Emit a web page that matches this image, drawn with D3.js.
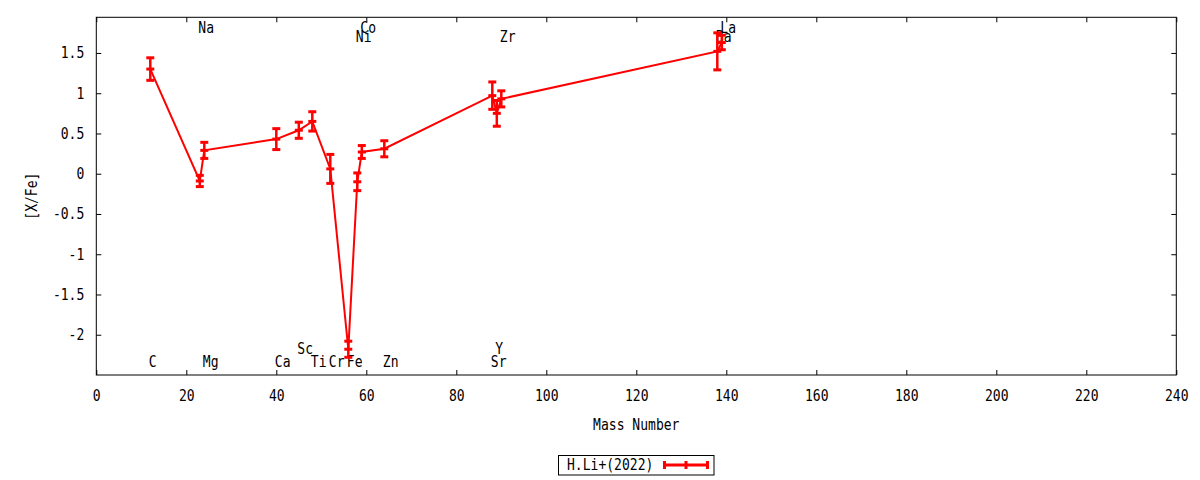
<!DOCTYPE html>
<html>
<head>
<meta charset="utf-8">
<script src="https://cdn.jsdelivr.net/npm/d3@7"></script>
<style>
  body { margin: 0; background: #fff; }
  svg text { font-family: "DejaVu Sans Mono", monospace; font-size: 15px; fill: #000; }
</style>
</head>
<body>
<div id="chart"></div>
<script>
// abundance data
var elements = ["C", "Na", "Mg", "Ca", "Sc", "Ti", "Cr", "Fe", "Ni", "Co", "Zn", "Sr", "Y", "Zr", "Ba", "La"];
var massNumbers = [12, 23, 24, 40, 45, 48, 52, 56, 58, 59, 64, 88, 89, 90, 138, 139];
var abundances = [1.30, -0.09, 0.29, 0.43, 0.54, 0.65, 0.06, -2.18, -0.10, 0.27, 0.31, 0.97, 0.75, 0.93, 1.52, 1.63];
var abundanceErrors = [0.14, 0.07, 0.10, 0.13, 0.10, 0.12, 0.18, 0.10, 0.11, 0.08, 0.10, 0.17, 0.16, 0.10, 0.23, 0.09];

// element name labels: row value in data units
var labelRows = [-2.33, 1.82, -2.33, -2.33, -2.17, -2.33, -2.33, -2.33, 1.70, 1.82, -2.33, -2.33, -2.17, 1.70, 1.70, 1.82];

var xTicks = [0, 20, 40, 60, 80, 100, 120, 140, 160, 180, 200, 220, 240];
var yTicks = [-2, -1.5, -1, -0.5, 0, 0.5, 1, 1.5];
var yTickLabels = ["-2", "-1.5", "-1", "-0.5", "0", "0.5", "1", "1.5"];
var seriesName = "H.Li+(2022)";

var width = 1200, height = 480;
var margin = { top: 17.3, right: 23.7, bottom: 105, left: 96.3 };
var red = "#ff0000";
var squeeze = 0.87; // the font in the picture is narrow and tall

var svg = d3.select("#chart").append("svg")
  .attr("width", width)
  .attr("height", height);

var x = d3.scaleLinear().domain([0, 240]).range([margin.left, width - margin.right]);
var y = d3.scaleLinear().domain([-2.5, 1.943]).range([height - margin.bottom, margin.top]);

var points = elements.map(function (el, i) {
  return { name: el, mass: massNumbers[i], val: abundances[i], err: abundanceErrors[i], row: labelRows[i] };
});

// axes, ticks inward and mirrored
var tickLen = 5;
svg.append("g")
  .attr("transform", "translate(0," + y.range()[0] + ")")
  .call(d3.axisBottom(x).tickValues(xTicks).tickSizeInner(-tickLen).tickSizeOuter(0).tickPadding(15).tickFormat(d3.format("d")))
  .call(function (g) { g.select(".domain").remove(); g.selectAll("line").attr("stroke", "#000"); });

svg.append("g")
  .attr("transform", "translate(0," + y.range()[1] + ")")
  .call(d3.axisTop(x).tickValues(xTicks).tickSizeInner(-tickLen).tickSizeOuter(0).tickFormat(""))
  .call(function (g) { g.select(".domain").remove(); });

svg.append("g")
  .attr("transform", "translate(" + x.range()[0] + ",0)")
  .call(d3.axisLeft(y).tickValues(yTicks).tickSizeInner(-tickLen).tickSizeOuter(0).tickPadding(12)
    .tickFormat(function (d, i) { return yTickLabels[i]; }))
  .call(function (g) { g.select(".domain").remove(); });

svg.append("g")
  .attr("transform", "translate(" + x.range()[1] + ",0)")
  .call(d3.axisRight(y).tickValues(yTicks).tickSizeInner(-tickLen).tickSizeOuter(0).tickFormat(""))
  .call(function (g) { g.select(".domain").remove(); });

svg.selectAll(".tick text").attr("font-family", null).attr("font-size", null);

svg.append("rect")
  .attr("x", x.range()[0])
  .attr("y", y.range()[1])
  .attr("width", x.range()[1] - x.range()[0])
  .attr("height", y.range()[0] - y.range()[1])
  .attr("fill", "none")
  .attr("stroke", "#000")
  .attr("stroke-width", 1);

// axis titles
svg.append("text")
  .attr("x", (x.range()[0] + x.range()[1]) / 2)
  .attr("y", 430)
  .attr("text-anchor", "middle")
  .text("Mass Number");

svg.append("text")
  .attr("class", "rotated")
  .attr("transform", "translate(37," + (y.range()[0] + y.range()[1]) / 2 + ") rotate(-90)")
  .attr("text-anchor", "middle")
  .text("[X/Fe]");

// element labels
svg.append("g").selectAll("text")
  .data(points)
  .join("text")
  .attr("x", function (d) { return x(d.mass) - 1.5; })
  .attr("y", function (d) { return y(d.row) + 5.5; })
  .text(function (d) { return d.name; });

// connecting line
var line = d3.line()
  .x(function (d) { return x(d.mass); })
  .y(function (d) { return y(d.val); });

svg.append("path")
  .datum(points)
  .attr("d", line)
  .attr("fill", "none")
  .attr("stroke", red)
  .attr("stroke-width", 2);

// error bars
var capW = 8;
var bars = svg.append("g").selectAll("g")
  .data(points)
  .join("g")
  .attr("stroke", red)
  .attr("fill", "none");

bars.append("line")
  .attr("x1", function (d) { return x(d.mass); })
  .attr("x2", function (d) { return x(d.mass); })
  .attr("y1", function (d) { return y(d.val - d.err); })
  .attr("y2", function (d) { return y(d.val + d.err); })
  .attr("stroke-width", 2.5);

[-1, 0, 1].forEach(function (k) {
  bars.append("line")
    .attr("x1", function (d) { return x(d.mass) - capW / 2; })
    .attr("x2", function (d) { return x(d.mass) + capW / 2; })
    .attr("y1", function (d) { return y(d.val + k * d.err); })
    .attr("y2", function (d) { return y(d.val + k * d.err); })
    .attr("stroke-width", 3);
});

// legend
var legend = svg.append("g");
legend.append("rect")
  .attr("x", 558.5)
  .attr("y", 455.5)
  .attr("width", 155.5)
  .attr("height", 19.5)
  .attr("fill", "none")
  .attr("stroke", "#000");
legend.append("text")
  .attr("x", 567)
  .attr("y", 470.5)
  .text(seriesName);
legend.append("line")
  .attr("x1", 664.5).attr("x2", 707.5)
  .attr("y1", 465).attr("y2", 465)
  .attr("stroke", red).attr("stroke-width", 3);
[664.5, 686, 707.5].forEach(function (lx) {
  legend.append("line")
    .attr("x1", lx).attr("x2", lx)
    .attr("y1", 461).attr("y2", 469)
    .attr("stroke", red).attr("stroke-width", 3);
});

// narrow every text horizontally around its anchor
svg.selectAll("text").each(function () {
  var t = d3.select(this);
  if (t.classed("rotated")) {
    t.attr("transform", t.attr("transform") + " scale(" + squeeze + ",1)");
  } else {
    var tx = +(t.attr("x") || 0);
    t.attr("x", tx / squeeze).attr("transform", "scale(" + squeeze + ",1)");
  }
});
</script>
</body>
</html>
